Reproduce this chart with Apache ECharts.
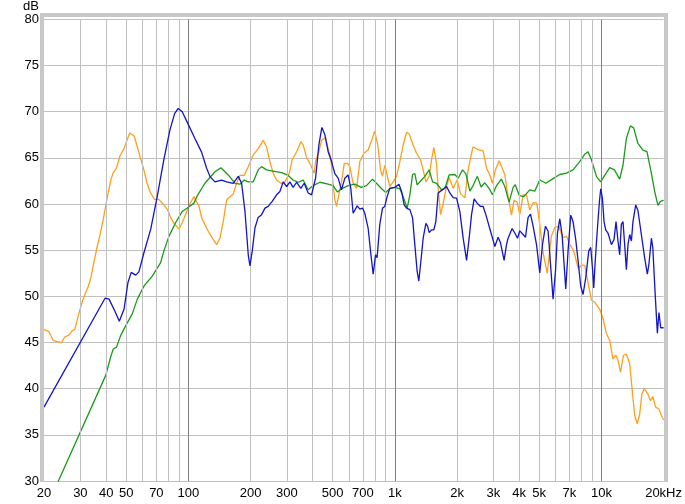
<!DOCTYPE html>
<html><head><meta charset="utf-8">
<script src="https://cdn.jsdelivr.net/npm/echarts@6/dist/echarts.min.js"></script>
<style>html,body{margin:0;padding:0;background:#fff}#c{width:685px;height:504px}</style>
</head><body><div id="c"></div>
<script>
const xTickValues = [20,30,40,50,70,100,200,300,500,700,1000,2000,3000,4000,5000,7000,10000,20000];
const xMinorLines = [30,40,50,60,70,80,90,200,300,400,500,600,700,800,900,2000,3000,4000,5000,6000,7000,8000,9000];
const xDecadeLines = [100,1000,10000];

const orangeFreq = [20,21.1,22.2,22.7,24.3,25.2,26.4,27.4,28.2,29.0,29.9,30.7,31.8,32.8,33.7,34.9,36.2,37.2,38.7,39.8,40.9,42.1,43.3,44.9,46.6,48.8,50.6,52.0,53.0,54.6,56.6,58.6,60.9,63.2,65.6,68.6,71.9,75.5,79.3,82.3,85.8,90.2,93.4,97.1,101,106.4,109.9,112.5,
116,124.8,132,137,142.2,147.5,153.2,159,164.9,171.2,177.7,186.4,195,206,217.8,230.4,239.2,248.3,257.5,267.5,280.6,293.4,307.7,318.2,334.3,350.7,359.7,372.7,391.5,406.6,413,428.5,441.6,461,475.3,490,502.4,512.1,522,535.2,551.4,568.9,589.9,605,627.9,652.4,676.5,707.7,742,771.6,798.2,826.3,851.8,871.2,893.7,917,945,980.5,
1019,1057,1097,1139,1173,1218,1273,1331,1371,1413,1466,1505,1544,1591,1620,1664,1701,1779,1831,1915,2003,2079,2182,2263,2351,2392,2530,2675,2779,2882,2971,3065,3199,3277,3406,3534,3671,3773,3907,4025,4177,4338,4500,4670,4866,5030,5220,5468,5718,5945,6216,6500,6795,7026,7289,7429,7724,8031,8304,8615,8947,9337,9816,
10180,10570,10970,11380,11730,12030,12370,12780,13210,13710,14100,14490,14910,15320,15700,16110,16810,17270,17740,18310,18980,19520,20000];
const orangeDb = [46.4,46.2,45.2,45.0,45.0,45.6,45.8,46.3,46.4,47.5,48.6,49.5,50.4,51.1,52.0,53.7,55.4,56.5,58.3,59.8,61.2,62.6,63.4,63.9,65.2,66.0,67.0,67.7,67.8,67.4,66.2,65.0,63.7,62.2,61.2,60.5,60.5,60.0,59.4,58.5,57.8,57.3,58.0,58.9,59.9,60.8,60.2,59.8,
58.5,57.05,56.15,55.6,56.3,58.1,60.46,60.8,61.07,62.25,63.1,63.1,64.05,65.3,66.0,66.9,66.2,64.6,63.33,62.6,62.25,62.4,63.3,64.8,65.67,66.75,66.4,65.1,64.2,63.33,64.6,65.67,66.9,67.2,66.0,64.95,62.1,60.46,59.74,61.0,62.4,64.4,64.4,64.05,62.25,61.7,64.6,65.5,65.85,66.9,67.9,66.4,63.7,63.0,64.2,63.15,61.9,62.4,
63.0,64.6,66.4,67.75,67.6,66.56,65.5,64.8,63.7,62.4,63.0,64.8,66.1,64.4,61.7,58.85,59.74,61.9,62.87,61.7,62.6,61.1,60.67,63.7,65.5,66.2,65.9,65.75,63.87,63.15,62.25,63.7,64.7,64.1,63.2,60.8,58.8,60.4,60.2,58.85,61.0,61.0,59.35,60.15,60.1,57.8,54.7,52.5,56.5,57.45,57.6,56.35,56.5,55.6,55.07,54.5,53.0,53.4,53.35,51.5,49.6,49.3,48.6,
47.6,46.0,45.2,43.2,43.65,43.1,41.8,43.6,43.76,42.7,39.8,37.1,36.2,37.2,39.45,40.0,39.4,38.7,39.15,38.0,37.8,37.1,36.6];

const greenFreq = [20,23.6,39.8,42.0,43.3,44.9,47.0,49.7,53.5,56.6,60.9,66.9,73.4,76.1,80.5,86.7,93.4,100,106.4,111.1,120.3,134.5,143.8,156,168.1,177.7,186.4,195,206,217.8,226.3,239.2,252.9,282.9,304.4,321.5,340.3,359.7,380.3,402,433.4,475.3,502.4,527.7,551.4,593.9,639.9,687.1,728.9,779,814.8,862,904,945,
1000,1057,1097,1147,1182,1218,1249,1282,1346,1397,1466,1522,1591,1684,1746,1831,1952,2025,2126,2206,2307,2392,2508,2615,2726,2859,2971,3106,3277,3406,3573,3737,3828,4007,4209,4500,4758,5030,5378,5834,6286,6772,7289,7854,8304,8615,8947,9460,9926,
10370,10970,11560,12260,12720,13210,13810,14330,15030,15890,16620,17460,18110,18790,19300,20000];
const greenDb = [26.4,30.1,41.44,43.4,44.3,44.5,45.75,46.8,48.1,49.7,51.1,52.2,53.66,54.9,56.5,57.97,59.2,59.66,60.1,61.0,62.25,63.5,63.94,63.15,62.25,62.15,62.6,62.4,62.4,63.7,64.05,63.7,63.6,63.4,63.1,62.6,62.36,62.6,61.54,62.0,62.36,62.15,62.0,61.3,61.65,62.0,62.15,61.8,62.0,62.7,62.25,61.65,61.25,61.7,
61.8,61.65,60.8,59.56,61.0,63.2,63.3,62.08,62.6,63.0,63.7,62.4,62.25,61.54,61.7,63.15,63.2,62.8,63.7,63.3,61.4,62.0,63.0,61.85,62.3,61.7,61.0,62.0,62.7,61.9,60.2,61.8,62.1,60.9,60.8,61.54,61.4,62.6,62.25,62.75,63.2,63.35,63.7,64.6,65.4,65.67,64.8,63.0,62.4,
63.1,63.94,63.7,62.7,64.2,67.1,68.47,68.25,66.56,65.85,65.67,63.33,61.36,59.85,60.28,60.4];

const blueFreq = [20,39.5,41.3,44.0,46.3,48.8,51.0,52.9,55.6,57.6,60.9,65.7,70.7,76.1,81.4,85.8,89.3,93.4,100,107.6,116,122.6,127.3,134.5,144.9,153.2,164.9,174.4,181.1,188,195,198.7,203.8,210.1,217.8,226.3,234.9,243.6,254.7,267.5,277.5,287.9,299.1,310.3,321.5,334.3,350.7,363.8,380.3,395,413,428.5,443.1,458.2,475.3,493.6,512.1,531.3,551.4,572.5,593.9,611.9,627.9,639.9,657,676.5,697.1,715.2,742,762.2,785.2,805.8,820.3,845.3,871.2,893.7,917,945,
1000,1046,1078,1109,1139,1182,1218,1249,1282,1306,1336,1371,1413,1440,1466,1505,1544,1579,1620,1664,1726,1779,1846,1915,1989,2063,2141,2224,2289,2351,2420,2502,2598,2675,2757,2859,2971,3047,3161,3247,3380,3471,3534,3695,3807,3924,4025,4177,4290,4416,4536,4670,4850,5030,5185,5360,5520,5686,5834,5992,6127,6286,6450,6594,6720,6894,7105,7289,7512,7716,7942,8148,8397,8682,8878,9078,9179,9357,9568,9783,9926,
10110,10300,10490,10760,11180,11510,11770,12030,12260,12490,12720,12960,13210,13450,13710,13970,14220,14660,15030,15610,16190,16690,16990,17460,17740,18250,18660,19000,19370,19740,20000];
const blueDb = [38.0,49.8,49.7,48.45,47.3,48.6,51.5,52.6,52.3,52.65,54.7,57.25,60.84,64.8,68.0,69.8,70.36,70.0,68.6,67.1,65.6,63.87,62.97,62.4,62.6,62.4,62.25,63.0,62.25,59.2,54.5,53.3,54.9,57.4,58.55,58.85,59.56,59.74,60.28,61.0,61.36,62.4,61.9,62.4,61.8,62.36,61.7,62.25,61.2,61.0,62.8,66.4,68.3,67.5,65.67,64.6,63.3,62.8,61.54,62.8,63.15,61.7,59.0,58.85,59.8,59.45,59.56,59.0,57.4,54.9,52.4,54.5,54.2,57.8,59.56,59.74,60.8,61.7,
61.8,62.15,61.36,59.9,59.56,59.4,58.5,55.6,52.7,51.66,53.8,56.3,57.9,57.6,56.9,57.2,57.2,58.1,61.2,61.4,61.65,61.9,61.2,60.7,60.64,59.2,56.3,53.9,56.3,58.85,60.57,60.1,59.74,59.74,58.85,57.6,56.3,55.4,56.4,55.8,53.9,55.6,56.3,57.34,56.86,56.3,57.1,56.7,56.4,58.55,58.9,57.6,55.6,52.55,55.6,57.6,57.05,53.1,49.7,52.7,56.86,58.4,56.7,53.5,50.8,54.9,58.8,58.1,56.15,53.8,51.1,50.2,52.0,54.9,55.3,52.7,50.9,54.2,57.4,60.3,61.65,
60.64,58.1,57.2,56.86,55.6,56.15,58.1,56.0,54.5,57.8,58.1,55.6,52.9,55.6,56.7,56.0,58.1,59.9,59.3,56.7,54.2,52.4,53.5,56.3,55.25,49.86,46.0,48.25,46.6,46.7,46.6];

function pairs(f, v) { return f.map((x, i) => [x, v[i]]); }
function fmtFreq(v) {
  if (v >= 20000) return '20kHz';
  if (v >= 1000) return (v / 1000) + 'k';
  return String(v);
}

const chart = echarts.init(document.getElementById('c'), null, {renderer: 'canvas'});
const gridL = 44, gridT = 17, gridR = 21, gridB = 23;
const vLines = xMinorLines.map(v => ({xAxis: v, lineStyle: {color: '#c0c0c0', width: 1, type: 'solid'}}))
  .concat(xDecadeLines.map(v => ({xAxis: v, lineStyle: {color: '#808080', width: 1, type: 'solid'}})));

chart.setOption({
  animation: false,
  backgroundColor: '#ffffff',
  grid: {left: gridL, top: gridT, right: gridR, bottom: gridB, containLabel: false},
  xAxis: {
    type: 'log', logBase: 10, min: 20, max: 20000,
    axisLine: {show: false}, axisTick: {show: false}, splitLine: {show: false}, minorSplitLine: {show: false},
    axisLabel: {customValues: xTickValues, formatter: fmtFreq, color: '#000', fontSize: 13,
      fontFamily: 'Liberation Sans, Arial, sans-serif', margin: 6, showMinLabel: true, showMaxLabel: true, hideOverlap: false}
  },
  yAxis: {
    type: 'value', min: 30, max: 80, interval: 5,
    name: 'dB', nameLocation: 'end', nameGap: 3,
    nameTextStyle: {color: '#000', fontSize: 13, fontFamily: 'Liberation Sans, Arial, sans-serif', align: 'right', padding: [0, 5, 0, 0]},
    axisLine: {show: false}, axisTick: {show: false},
    splitLine: {show: true, lineStyle: {color: '#c0c0c0', width: 1}},
    axisLabel: {color: '#000', fontSize: 13, fontFamily: 'Liberation Sans, Arial, sans-serif', margin: 5}
  },
  graphic: [
    {type: 'rect', z: 100, shape: {x: 40, y: 13, width: 628, height: 4}, style: {fill: '#c8c8c8'}},
    {type: 'rect', z: 100, shape: {x: 40, y: 13, width: 4, height: 469}, style: {fill: '#c8c8c8'}},
    {type: 'rect', z: 100, shape: {x: 664, y: 13, width: 4, height: 469}, style: {fill: '#c8c8c8'}}
  ],
  series: [
    {type: 'line', data: [], z: 1, silent: true, symbol: 'none',
      markLine: {silent: true, symbol: ['none', 'none'], label: {show: false}, animation: false, data: vLines}},
    {name: 'orange', type: 'line', data: pairs(orangeFreq, orangeDb), showSymbol: false, symbol: 'none', smooth: false,
      lineStyle: {color: '#ff9f1a', width: 1.3}, itemStyle: {color: '#ff9f1a'}, z: 3, clip: true},
    {name: 'green', type: 'line', data: pairs(greenFreq, greenDb), showSymbol: false, symbol: 'none',
      lineStyle: {color: '#1a9a1a', width: 1.3}, itemStyle: {color: '#1a9a1a'}, z: 4, clip: true},
    {name: 'blue', type: 'line', data: pairs(blueFreq, blueDb), showSymbol: false, symbol: 'none',
      lineStyle: {color: '#1414c8', width: 1.3}, itemStyle: {color: '#1414c8'}, z: 5, clip: true}
  ]
});
</script></body></html>
